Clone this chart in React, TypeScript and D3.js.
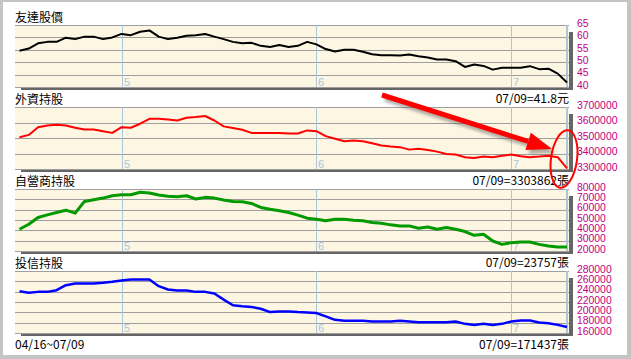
import * as d3 from "d3";

const W = 631;
const H = 359;

// trading days 04/16 ~ 07/09, one value per day
const priceValues = [
  54.6, 55.5, 57.6, 58.2, 58.2, 59.9, 59.3, 60.3, 60.3, 59.3,
  60.0, 61.4, 60.9, 62.3, 62.8, 60.3, 59.3, 59.9, 60.7, 60.9,
  61.4, 60.3, 59.3, 58.2, 57.6, 57.8, 56.6, 56.1, 56.9, 56.1,
  56.6, 58.2, 57.2, 55.3, 54.3, 55.0, 55.0, 54.2, 53.2, 52.8,
  52.8, 52.7, 53.1, 52.4, 51.9, 51.1, 51.1, 50.4, 48.1, 49.1,
  48.5, 47.0, 47.8, 47.8, 47.8, 48.4, 47.2, 47.4, 45.4, 41.8,
];

const foreignValues = [
  3505000, 3520000, 3570000, 3581000, 3585000, 3581000, 3566000, 3555000, 3555000, 3544000,
  3533000, 3570000, 3566000, 3592000, 3624000, 3624000, 3620000, 3613000, 3631000, 3635000,
  3642000, 3613000, 3575000, 3564000, 3553000, 3533000, 3533000, 3533000, 3533000, 3529000,
  3529000, 3549000, 3544000, 3512000, 3495000, 3479000, 3484000, 3479000, 3466000, 3451000,
  3445000, 3441000, 3425000, 3430000, 3423000, 3412000, 3397000, 3393000, 3376000, 3371000,
  3380000, 3376000, 3386000, 3393000, 3382000, 3376000, 3380000, 3386000, 3376000, 3303862,
];

const dealerValues = [
  41000, 45900, 52400, 55000, 57300, 59500, 56600, 68000, 69600, 71200,
  73500, 74500, 74500, 76800, 76100, 74200, 72900, 72500, 73500, 70300,
  71900, 71200, 69300, 68000, 67700, 66000, 62100, 60500, 58900, 57300,
  54700, 51800, 50800, 49200, 50800, 50800, 49800, 49200, 47500, 46900,
  45300, 44300, 44300, 42000, 43300, 41000, 42700, 41000, 38800, 35200,
  36200, 29700, 26400, 28100, 28700, 28700, 26400, 24800, 23800, 23757,
];

const trustValues = [
  240900, 237700, 239600, 239600, 242900, 252600, 255900, 255900, 255900, 257200,
  259200, 261800, 263700, 263700, 263700, 250700, 244200, 242200, 242200, 239600,
  239600, 236400, 224600, 213600, 211700, 210300, 207000, 200500, 201800, 201800,
  200500, 199900, 198600, 192100, 185500, 183600, 183600, 183600, 182300, 182300,
  182300, 183600, 182300, 181000, 181000, 181000, 181000, 182300, 177700, 175700,
  177700, 175700, 177700, 182300, 184200, 184200, 180300, 179000, 175700, 171437,
];

const monthStarts = [
  { label: "5", index: 11 },
  { label: "6", index: 32 },
  { label: "7", index: 53 },
];

const titles = ["友達股價", "外資持股", "自營商持股", "投信持股"];
const lastLabels = ["07/09=41.8元", "07/09=3303862張", "07/09=23757張", "07/09=171437張"];
const yTicks = [
  [65, 60, 55, 50, 45, 40],
  [3700000, 3600000, 3500000, 3400000, 3300000],
  [80000, 70000, 60000, 50000, 40000, 30000, 20000],
  [280000, 260000, 240000, 220000, 200000, 180000, 160000],
];
const dateRange = "04/16~07/09";

const panels = [
  { values: priceValues, color: "#000000", width: 2 },
  { values: foreignValues, color: "#ff0000", width: 2 },
  { values: dealerValues, color: "#009a00", width: 3 },
  { values: trustValues, color: "#0000ff", width: 2.5 },
];

const PLOT_LEFT = 15;
const PLOT_RIGHT = 569;
const FIRST_TOP = 25;
const PANEL_STEP = 82;
const PANEL_H = 62;
const CJK = "'Noto Sans CJK TC', 'Noto Sans CJK SC', sans-serif";

const xScale = d3
  .scaleLinear()
  .domain([0, priceValues.length - 1])
  .range([19.5, 567]);

const Panel = ({ k }: { k: number }) => {
  const top = FIRST_TOP + k * PANEL_STEP;
  const bottom = top + PANEL_H;
  const ticks = yTicks[k];
  const yScale = d3
    .scaleLinear()
    .domain([d3.min(ticks) as number, d3.max(ticks) as number])
    .range([bottom, top]);
  const { values, color, width } = panels[k];
  const line = d3
    .line<number>()
    .x((_, i) => xScale(i))
    .y((d) => yScale(d));
  const endX = xScale(values.length - 1);

  return (
    <g>
      <text x={PLOT_LEFT} y={top - 3} fontFamily={CJK} fontSize={12} fill="#000">
        {titles[k]}
      </text>
      {/* shadow */}
      <rect x={PLOT_RIGHT} y={top + 7} width={4} height={PANEL_H - 4} fill="#666" />
      <rect x={PLOT_LEFT + 6} y={bottom} width={PLOT_RIGHT - PLOT_LEFT - 2} height={3} fill="#666" />
      <rect x={PLOT_LEFT} y={top} width={PLOT_RIGHT - PLOT_LEFT} height={PANEL_H} fill="#fdf6e2" />
      {ticks.map((t) => (
        <line
          key={t}
          x1={PLOT_LEFT}
          x2={PLOT_RIGHT}
          y1={Math.round(yScale(t)) + 0.5}
          y2={Math.round(yScale(t)) + 0.5}
          stroke="#9e9e9e"
          strokeWidth={1}
        />
      ))}
      {monthStarts.map((m) => {
        const x = Math.round(xScale(m.index)) + 0.5;
        return (
          <g key={m.label}>
            <line x1={x} x2={x} y1={top} y2={bottom} stroke="#a8c6dc" strokeWidth={1} />
            <text x={x + 1.5} y={bottom - 1.5} fontFamily="'Liberation Sans', Arial, sans-serif" fontSize={11} fill="#a8c6dc">
              {m.label}
            </text>
          </g>
        );
      })}
      <line x1={endX} x2={endX} y1={top} y2={bottom} stroke="#a8c6dc" strokeWidth={2} />
      <path d={line(values) || undefined} fill="none" stroke={color} strokeWidth={width} strokeLinejoin="round" />
      {ticks.map((t) => (
        <text
          key={"l" + t}
          x={577}
          y={yScale(t) - 1}
          dominantBaseline="middle"
          fontFamily="'Liberation Sans', Arial, sans-serif"
          fontSize={10.4}
          fill="#c0007f"
        >
          {t}
        </text>
      ))}
      <text x={PLOT_RIGHT} y={bottom + 16} textAnchor="end" fontFamily={CJK} fontSize={12} fill="#000">
        {lastLabels[k]}
      </text>
    </g>
  );
};

const Arrow = () => {
  const start: [number, number] = [382, 95];
  const tip: [number, number] = [552, 149];
  const dx = tip[0] - start[0];
  const dy = tip[1] - start[1];
  const len = Math.hypot(dx, dy);
  const ux = dx / len;
  const uy = dy / len;
  const bx = tip[0] - ux * 25;
  const by = tip[1] - uy * 25;
  const head = [
    [tip[0], tip[1]],
    [bx - uy * 9, by + ux * 9],
    [bx + uy * 9, by - ux * 9],
  ]
    .map((p) => p.join(","))
    .join(" ");
  const shape = (fill: string) => (
    <>
      <line x1={start[0]} y1={start[1]} x2={bx} y2={by} stroke={fill} strokeWidth={5} />
      <polygon points={head} fill={fill} />
    </>
  );
  return (
    <g>
      <g transform="translate(3,4)" opacity={0.45} filter="url(#soft)">
        {shape("#555")}
      </g>
      {shape("#ff0000")}
    </g>
  );
};

export default function App() {
  return (
    <svg
      width={W}
      height={H}
      style={{ position: "absolute", left: 0, top: 0, display: "block" }}
    >
      <defs>
        <filter id="soft" x="-10%" y="-10%" width="120%" height="120%">
          <feGaussianBlur stdDeviation={1.5} />
        </filter>
      </defs>
      <rect x={0} y={0} width={W} height={H} fill="#ffffff" />
      <rect x={0} y={0} width={W} height={2} fill="#c4c4c4" />
      <rect x={0} y={0} width={3} height={H} fill="#c4c4c4" />
      <rect x={627} y={0} width={4} height={H} fill="#c4c4c4" />
      <rect x={0} y={355} width={W} height={4} fill="#c4c4c4" />
      {panels.map((_, k) => (
        <Panel key={k} k={k} />
      ))}
      <text x={PLOT_LEFT} y={349} fontFamily={CJK} fontSize={12} fill="#000">
        {dateRange}
      </text>
      <Arrow />
      <ellipse
        cx={564}
        cy={159}
        rx={13}
        ry={29}
        transform="rotate(8 564 159)"
        fill="none"
        stroke="#ff0000"
        strokeWidth={2}
      />
    </svg>
  );
}
